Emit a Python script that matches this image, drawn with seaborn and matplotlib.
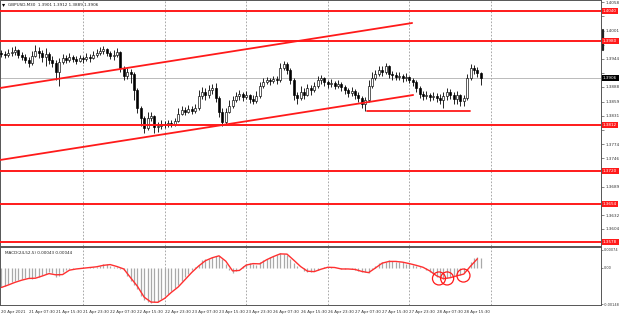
import matplotlib
matplotlib.use("Agg")
import matplotlib.pyplot as plt
from matplotlib.lines import Line2D
import seaborn as sns
import numpy as np
import pandas as pd

# ---------------- data (hourly candles, first bar 20 Apr 2021 23:30) ----------------
first_open = 1.3956
close = [1.3954,1.3952,1.3956,1.3958,1.3962,1.3952,1.3948,1.3942,1.3936,1.3950,
         1.3960,1.3956,1.3948,1.3954,1.3942,1.3936,1.3918,1.3938,1.3946,1.3942,
         1.3948,1.3944,1.3940,1.3946,1.3944,1.3948,1.3946,1.3952,1.3956,1.3960,
         1.3964,1.3956,1.3950,1.3952,1.3958,1.3926,1.3910,1.3918,1.3914,1.3882,
         1.3846,1.3826,1.3806,1.3826,1.3830,1.3808,1.3810,1.3814,1.3812,1.3816,
         1.3814,1.3820,1.3834,1.3842,1.3838,1.3844,1.3840,1.3846,1.3870,1.3878,
         1.3872,1.3882,1.3886,1.3866,1.3838,1.3818,1.3838,1.3850,1.3862,1.3870,
         1.3874,1.3868,1.3872,1.3864,1.3860,1.3870,1.3890,1.3898,1.3902,1.3900,
         1.3904,1.3902,1.3926,1.3934,1.3922,1.3902,1.3872,1.3866,1.3878,1.3872,
         1.3886,1.3882,1.3890,1.3902,1.3906,1.3898,1.3894,1.3896,1.3890,1.3894,
         1.3888,1.3882,1.3876,1.3880,1.3872,1.3866,1.3854,1.3862,1.3890,1.3906,
         1.3914,1.3922,1.3918,1.3930,1.3914,1.3912,1.3908,1.3910,1.3906,1.3908,
         1.3902,1.3898,1.3886,1.3874,1.3870,1.3872,1.3868,1.3870,1.3866,1.3862,
         1.3870,1.3878,1.3872,1.3864,1.3872,1.3860,1.3866,1.3906,1.3926,1.3922,
         1.3916,1.3906]
high = [1.3962,1.3960,1.3964,1.3968,1.3970,1.3964,1.3958,1.3954,1.3948,1.3960,
        1.3972,1.3968,1.3962,1.3966,1.3958,1.3950,1.3942,1.3946,1.3954,1.3952,
        1.3956,1.3952,1.3950,1.3952,1.3950,1.3956,1.3954,1.3960,1.3964,1.3968,
        1.3970,1.3966,1.3960,1.3962,1.3966,1.3960,1.3930,1.3926,1.3924,1.3918,
        1.3886,1.3850,1.3830,1.3838,1.3838,1.3832,1.3818,1.3822,1.3820,1.3822,
        1.3822,1.3826,1.3846,1.3850,1.3848,1.3852,1.3850,1.3854,1.3882,1.3888,
        1.3886,1.3892,1.3894,1.3896,1.3870,1.3846,1.3846,1.3862,1.3870,1.3878,
        1.3882,1.3878,1.3880,1.3874,1.3872,1.3880,1.3898,1.3906,1.3908,1.3906,
        1.3910,1.3910,1.3936,1.3940,1.3938,1.3926,1.3906,1.3878,1.3890,1.3886,
        1.3894,1.3892,1.3898,1.3910,1.3912,1.3908,1.3902,1.3904,1.3900,1.3902,
        1.3898,1.3892,1.3886,1.3888,1.3884,1.3878,1.3870,1.3868,1.3902,1.3918,
        1.3922,1.3930,1.3930,1.3936,1.3932,1.3920,1.3918,1.3918,1.3914,1.3916,
        1.3910,1.3906,1.3902,1.3890,1.3880,1.3880,1.3876,1.3878,1.3876,1.3874,
        1.3878,1.3886,1.3884,1.3878,1.3880,1.3874,1.3872,1.3914,1.3934,1.3932,
        1.3928,1.3918]
low = [1.3948,1.3946,1.3948,1.3950,1.3952,1.3946,1.3942,1.3936,1.3928,1.3932,
       1.3948,1.3946,1.3938,1.3930,1.3934,1.3928,1.3902,1.3890,1.3934,1.3936,
       1.3938,1.3938,1.3934,1.3938,1.3936,1.3940,1.3938,1.3944,1.3948,1.3952,
       1.3954,1.3950,1.3944,1.3942,1.3948,1.3918,1.3902,1.3904,1.3896,1.3862,
       1.3836,1.3810,1.3796,1.3802,1.3820,1.3796,1.3798,1.3804,1.3806,1.3808,
       1.3808,1.3810,1.3818,1.3832,1.3832,1.3836,1.3834,1.3836,1.3842,1.3864,
       1.3862,1.3866,1.3874,1.3858,1.3828,1.3810,1.3812,1.3836,1.3846,1.3858,
       1.3862,1.3860,1.3864,1.3856,1.3854,1.3856,1.3866,1.3886,1.3894,1.3892,
       1.3896,1.3894,1.3898,1.3922,1.3914,1.3894,1.3862,1.3854,1.3862,1.3864,
       1.3870,1.3872,1.3878,1.3886,1.3894,1.3890,1.3886,1.3888,1.3884,1.3886,
       1.3880,1.3874,1.3868,1.3870,1.3864,1.3858,1.3846,1.3840,1.3858,1.3886,
       1.3902,1.3910,1.3910,1.3914,1.3906,1.3902,1.3902,1.3902,1.3898,1.3900,
       1.3896,1.3890,1.3878,1.3866,1.3862,1.3864,1.3860,1.3862,1.3858,1.3854,
       1.3846,1.3862,1.3864,1.3854,1.3854,1.3850,1.3850,1.3862,1.3902,1.3914,
       1.3908,1.3892]

# MACD histogram (units of 0.00001), one value per candle
macd = [-78,-72,-66,-59,-55,-51,-47,-43,-41,-45,
        -39,-35,-29,-25,-18,-21,-37,-33,-16,-10,
        -4,-3,-2,-1,0,1,3,4,6,8,
        16,18,8,6,4,-4,-10,-33,-53,-70,
        -86,-115,-133,-141,-144,-141,-139,-129,-117,-105,
        -94,-82,-70,-53,-39,-23,-8,4,14,31,
        35,39,45,51,49,39,16,-8,-21,-12,
        -2,10,16,20,16,12,23,33,39,45,
        51,55,62,59,53,39,21,8,0,-12,
        -16,-16,-14,-8,0,4,4,3,1,-1,
        -6,-6,-2,-4,-9,-14,-16,-18,-21,-4,
        10,21,23,25,31,29,25,25,23,18,
        16,12,8,4,0,-10,-18,-29,-39,-45,
        -45,-41,-37,-33,-29,-29,-21,2,25,41,
        45,41]
# signal line (units of 0.00001), every second candle
signal_step = 2
signal = [-80,-70,-59,-50,-43,-42,-33,-23,-28,-27,
          -9,-4,-1,2,5,11,14,6,-4,-40,
          -75,-120,-140,-141,-125,-100,-78,-48,-18,8,
          30,42,50,28,-12,-10,12,18,17,34,
          47,58,57,32,6,-13,-15,-5,3,2,
          -4,-4,-6,-14,-19,0,20,27,27,24,
          18,11,3,-12,-32,-44,-40,-32,-25,8,
          38]

# horizontal levels and current price
levels = [1.4040, 1.3980, 1.3812, 1.3720, 1.3654, 1.3578]
current_price = 1.3906
price_ticks = [1.4058, 1.4030, 1.4001, 1.3973, 1.3944, 1.3916, 1.3888, 1.3859, 1.3831,
               1.3802, 1.3774, 1.3746, 1.3717, 1.3689, 1.3660, 1.3632, 1.3604]
macd_ticks = [74, 0, -148]
macd_tick_labels = ["0.00074", "0.00", "-0.00148"]

# trend lines (candle index, price)
upper_x = [-0.41, 120.8]; upper_y = [1.3886, 1.4016]
lower_x = [-0.41, 121.1]; lower_y = [1.3742, 1.3872]
support_x = [107.5, 137.8]; support_y = [1.3840, 1.3840]

# annotation circles on MACD panel
circle_x = [128.7, 131.1, 135.9]
circle_y = [-43, -43, -31]

time_labels = ["20 Apr 2021", "21 Apr 07:30", "21 Apr 15:30", "21 Apr 23:30", "22 Apr 07:30",
               "22 Apr 15:30", "22 Apr 23:30", "23 Apr 07:30", "23 Apr 15:30", "23 Apr 23:30",
               "26 Apr 07:30", "26 Apr 15:30", "26 Apr 23:30", "27 Apr 07:30", "27 Apr 15:30",
               "27 Apr 23:30", "28 Apr 07:30", "28 Apr 15:30"]
label_every = 8
day_grid = [24, 48, 72, 96, 120, 144]

title_text = "GBPUSD,M30  1.3901 1.3912 1.3889 1.3906"
macd_text = "MACD(24,52,5) 0.00043 0.00044"

# ---------------- figure ----------------
sns.set_style("white")
plt.rcParams['font.family'] = ['DejaVu Sans']
W, H = 620, 316
fig = plt.figure(figsize=(W / 100, H / 100), dpi=100)
fig.patch.set_facecolor("white")


def rect(x0, y0, x1, y1):
    return [x0 / W, 1 - y1 / H, (x1 - x0) / W, (y1 - y0) / H]


ax = fig.add_axes(rect(0, 0, 601, 246))
axm = fig.add_axes(rect(0, 247, 601, 305))

n = len(close)
idx = np.arange(n)
opens = [first_open] + close[:-1]
df = pd.DataFrame({"i": idx, "open": opens, "high": high, "low": low, "close": close})

xlim = (-0.41, 176.35)
FS = 3.0
PX_PER_PRICE = 1 / 0.0002
TOP_PRICE = 1.4062

# ---- main price panel ----
ax.set_xlim(*xlim)
ax.set_ylim(TOP_PRICE - 246 / PX_PER_PRICE, TOP_PRICE)
for g in day_grid:
    ax.axvline(g, color="#9a9a9a", lw=0.6, ls=(0, (2, 2)), zorder=1)
    axm.axvline(g, color="#9a9a9a", lw=0.6, ls=(0, (2, 2)), zorder=1)
ax.axhline(current_price, color="#b0b0b0", lw=0.6, zorder=1)

for lv in levels:
    ax.axhline(lv, color="#ff1a1a", lw=1.4, zorder=4)

ax.vlines(df["i"], df["low"], df["high"], color="black", lw=0.6, zorder=2)
up = df[df["close"] >= df["open"]]
dn = df[df["close"] < df["open"]]
ax.bar(up["i"], (up["close"] - up["open"]).clip(lower=0.00006), bottom=up["open"], width=0.62,
       color="white", edgecolor="black", lw=0.45, zorder=3)
ax.bar(dn["i"], dn["close"] - dn["open"], bottom=dn["open"], width=0.62,
       color="black", edgecolor="black", lw=0.45, zorder=3)

line_df = pd.DataFrame({"x": upper_x + lower_x + support_x,
                        "y": upper_y + lower_y + support_y,
                        "g": ["u", "u", "l", "l", "s", "s"]})
sns.lineplot(data=line_df, x="x", y="y", units="g", estimator=None, color="#ff1a1a",
             lw=1.3, ax=ax, zorder=5, legend=False)

# tick labels hidden where a level box covers them (as in the terminal)
boxed = levels + [current_price]
visible_ticks = [t for t in price_ticks
                 if min(abs(t - b) for b in boxed) * PX_PER_PRICE > 5.5]
ax.yaxis.tick_right()
ax.set_yticks(price_ticks)
ax.set_yticklabels([f"{v:.4f}" if v in visible_ticks else "" for v in price_ticks],
                   fontsize=FS, color="#333333")
ax.tick_params(axis="y", length=2, width=0.5, pad=1.0, colors="#555555", labelcolor="#333333")
ax.set_xticks([])
ax.set_xlabel("")
ax.set_ylabel("")
for s in ax.spines.values():
    s.set_color("#555555"); s.set_linewidth(0.7)

# ---- MACD panel ----
axm.set_xlim(*xlim)
axm.set_ylim(-152.1, 86.3)
axm.vlines(idx, 0, macd, color="#a9a9a9", lw=0.9, zorder=2)
sig_x = np.arange(0, n, signal_step)[:len(signal)]
sns.lineplot(x=sig_x, y=signal, color="#ff3030", lw=1.0, ax=axm, zorder=3)
axm.scatter(circle_x, circle_y, s=88, facecolors="none", edgecolors="#ff1a1a",
            linewidths=0.9, zorder=5)
axm.yaxis.tick_right()
axm.set_yticks(macd_ticks)
axm.set_yticklabels(macd_tick_labels, fontsize=2.5)
axm.tick_params(axis="y", length=1.5, width=0.5, pad=0.6, colors="#555555", labelcolor="#333333")
tick_pos = [label_every * k for k in range(len(time_labels))]
axm.set_xticks(tick_pos)
axm.set_xticklabels(time_labels, fontsize=2.9)
for lbl in axm.get_xticklabels():
    lbl.set_ha("left")
axm.tick_params(axis="x", length=2, width=0.5, pad=1.5, colors="#555555", labelcolor="#333333")
axm.set_xlabel("")
axm.set_ylabel("")
for s in axm.spines.values():
    s.set_color("#555555"); s.set_linewidth(0.7)

# ---- labels in figure pixels ----
def fx(px): return px / W
def fy(py): return 1 - py / H

for lv in levels:
    y_px = (TOP_PRICE - lv) * PX_PER_PRICE
    fig.text(fx(603), fy(y_px), f"{lv:.4f}", fontsize=FS, color="white", va="center", ha="left",
             bbox=dict(boxstyle="square,pad=0.3", fc="#ff1a1a", ec="none"), zorder=10)
cy = (TOP_PRICE - current_price) * PX_PER_PRICE
fig.text(fx(603), fy(cy), f"{current_price:.4f}", fontsize=FS, color="white", va="center", ha="left",
         bbox=dict(boxstyle="square,pad=0.3", fc="black", ec="none"), zorder=10)

fig.add_artist(Line2D([fx(602.5), fx(602.5)], [fy(30), fy(50)], color="#222222", lw=1.6))
fig.text(fx(2), fy(4.5), "\u25BE", fontsize=4.5, color="black", va="center", ha="left")
fig.text(fx(8), fy(4.5), title_text, fontsize=FS, color="#222222", va="center", ha="left")
fig.text(fx(5), fy(253.5), macd_text, fontsize=FS, color="#222222", va="center", ha="left")

fig.savefig("out.png", dpi=100, facecolor="white")
